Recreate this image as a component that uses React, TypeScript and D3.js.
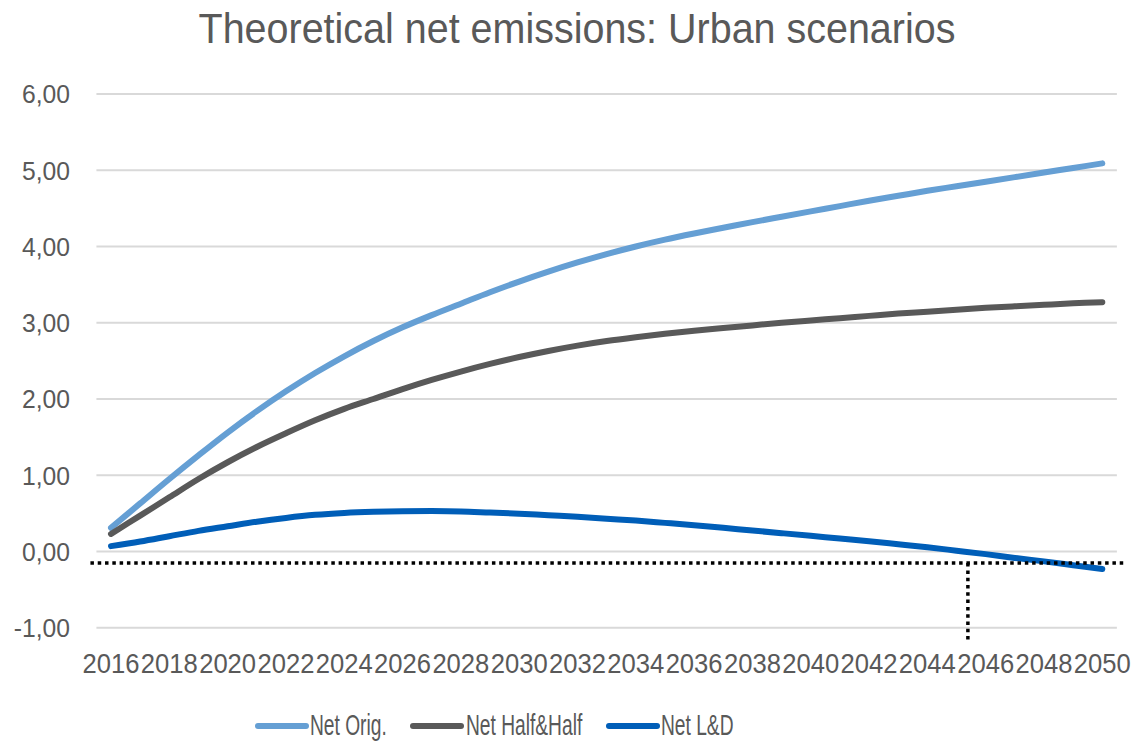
import React from "react";
import * as d3 from "d3";

// Years on the category axis (every year plotted, every other year labelled)
const years: number[] = d3.range(2016, 2051);

const netOrig: number[] = [
  0.31, 0.63, 0.95, 1.26, 1.56, 1.84, 2.10, 2.34, 2.56, 2.76,
  2.94, 3.10, 3.25, 3.40, 3.54, 3.67, 3.79, 3.90, 4.00, 4.09,
  4.17, 4.245, 4.32, 4.39, 4.46, 4.53, 4.60, 4.665, 4.73, 4.79,
  4.85, 4.91, 4.97, 5.03, 5.09,
];

const netHalfHalf: number[] = [
  0.23, 0.47, 0.71, 0.95, 1.17, 1.37, 1.55, 1.72, 1.87, 2.00,
  2.13, 2.25, 2.36, 2.46, 2.55, 2.63, 2.70, 2.76, 2.81, 2.855,
  2.895, 2.93, 2.965, 3.00, 3.03, 3.06, 3.09, 3.12, 3.145, 3.17,
  3.195, 3.215, 3.235, 3.255, 3.27,
];

const netLD: number[] = [
  0.07, 0.13, 0.20, 0.27, 0.33, 0.39, 0.44, 0.48, 0.505, 0.52,
  0.528, 0.53, 0.525, 0.51, 0.495, 0.475, 0.455, 0.43, 0.405, 0.375,
  0.345, 0.31, 0.275, 0.24, 0.205, 0.17, 0.135, 0.095, 0.055, 0.01,
  -0.035, -0.085, -0.13, -0.18, -0.23,
];

const yTicks: number[] = [-1, 0, 1, 2, 3, 4, 5, 6];
const seriesNames: string[] = ["Net Orig.", "Net Half&Half", "Net L&D"];
const seriesColors: string[] = ["#659FD4", "#595959", "#005EB8"];

// Reference markers: threshold level and the year the L&D curve reaches it
const thresholdLevel = -0.153;
const markerYear = 2045.39;
const markerBottom = -1.167;

const W = 1133;
const H = 741;
const FONT = "'Liberation Sans', Arial, sans-serif";
const TEXT = "#595959";

// Text compressed horizontally to mimic a narrow face
function NText(props: {
  x: number;
  y: number;
  size: number;
  sx: number;
  anchor?: "start" | "middle" | "end";
  children: React.ReactNode;
}) {
  return (
    <text
      transform={`translate(${props.x},${props.y}) scale(${props.sx},1)`}
      textAnchor={props.anchor || "start"}
      fontFamily={FONT}
      fontSize={props.size}
      fill={TEXT}
    >
      {props.children}
    </text>
  );
}

export default function App() {
  const x = d3.scaleLinear().domain([2016, 2050]).range([111, 1102.3]);
  const y = d3.scaleLinear().domain([-1, 6]).range([627.7, 94]);
  const plotLeft = x(2015.5);
  const plotRight = x(2050.5);

  const line = d3
    .line<number>()
    .x((_, i) => x(years[i]))
    .y((d) => y(d))
    .curve(d3.curveCatmullRom.alpha(0.5));

  const series = [netOrig, netHalfHalf, netLD];

  const legendItems = [
    { lx: 258, tx: 310 },
    { lx: 413, tx: 466 },
    { lx: 609, tx: 661 },
  ];

  return (
    <div style={{ position: "absolute", left: 0, top: 0 }}>
      <svg width={W} height={H} style={{ display: "block", background: "#fff" }}>
        <NText x={577} y={43} size={42} sx={0.94} anchor="middle">
          Theoretical net emissions: Urban scenarios
        </NText>

        {/* gridlines */}
        {yTicks.map((t) => (
          <line
            key={"g" + t}
            x1={plotLeft}
            x2={plotRight}
            y1={y(t)}
            y2={y(t)}
            stroke="#D9D9D9"
            strokeWidth={2}
          />
        ))}

        {/* y tick labels */}
        {yTicks.map((t) => (
          <NText key={"t" + t} x={70} y={y(t) + 9.3} size={26} sx={0.95} anchor="end">
            {d3.format(".2f")(t).replace(".", ",").replace("−", "-")}
          </NText>
        ))}

        {/* x tick labels */}
        {years
          .filter((yr) => (yr - 2016) % 2 === 0)
          .map((yr) => (
            <NText key={"x" + yr} x={x(yr)} y={673.3} size={28} sx={0.915} anchor="middle">
              {yr}
            </NText>
          ))}

        {/* series */}
        {series.map((s, i) => (
          <path
            key={"s" + i}
            d={line(s) || ""}
            fill="none"
            stroke={seriesColors[i]}
            strokeWidth={6}
            strokeLinecap="round"
            strokeLinejoin="round"
          />
        ))}

        {/* dotted reference markers */}
        <line
          x1={plotLeft - 6}
          x2={plotRight + 7}
          y1={y(thresholdLevel)}
          y2={y(thresholdLevel)}
          stroke="#000"
          strokeWidth={3.5}
          strokeDasharray="3.5 3.8"
        />
        <line
          x1={x(markerYear)}
          x2={x(markerYear)}
          y1={y(thresholdLevel)}
          y2={y(markerBottom)}
          stroke="#000"
          strokeWidth={3.5}
          strokeDasharray="3.5 3.8"
        />

        {/* legend */}
        {seriesNames.map((name, i) => (
          <g key={"l" + i}>
            <line
              x1={legendItems[i].lx}
              x2={legendItems[i].lx + 48}
              y1={726}
              y2={726}
              stroke={seriesColors[i]}
              strokeWidth={6}
              strokeLinecap="round"
            />
            <NText x={legendItems[i].tx} y={735} size={30} sx={0.64}>
              {name}
            </NText>
          </g>
        ))}
      </svg>
    </div>
  );
}
